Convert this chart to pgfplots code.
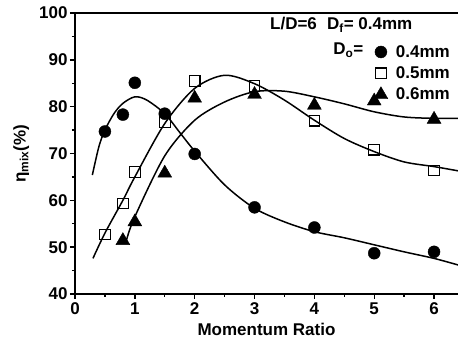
\documentclass[border=0pt]{standalone}
\usepackage{fontspec}
\setmainfont{Liberation Sans}
\usepackage{pgfplots}
\pgfplotsset{compat=1.18}
\begin{document}
\begin{tikzpicture}[font=\fontsize{17}{20}\selectfont\bfseries]
\begin{axis}[name=ax, scale only axis, width=383pt, height=281pt,
 xmin=0, xmax=6.4, ymin=40, ymax=100,
 axis x line*=box, axis y line*=left,
 xtick={0,1,...,6}, ytick={40,50,...,100},
 minor x tick num=1, minor y tick num=1,
 xtick pos=bottom, ytick pos=left, tick align=outside,
 major tick length=5pt, minor tick length=3pt,
 axis line style={line width=1.8pt},
 every tick/.style={line width=1.4pt, black},
 /pgf/number format/assume math mode=true,
 ticklabel style={font=\fontsize{17}{20}\selectfont\bfseries},
 xticklabel style={yshift=0pt}, yticklabel style={xshift=1pt},
 xlabel={Momentum Ratio}, ylabel={η\textsubscript{mix}(\%)},
 xlabel style={yshift=-2pt}, ylabel style={yshift=3pt},
 legend style={draw=none, fill=none, at={(0.992,0.9)}, anchor=north east,
   row sep=4pt, column sep=6pt, font=\fontsize{17}{20}\selectfont\bfseries},
 legend cell align=left,
]
% fitted curves
\addplot[forget plot, black, line width=1.5pt, smooth] coordinates {
 (0.29,65.4) (0.4,71.5) (0.5,75) (0.65,78.5) (0.8,80.7) (1.0,82.1) (1.2,81.4) (1.5,78.5)
 (1.75,74.5) (2.0,70.5) (2.5,63.3) (3.0,58.3) (3.5,55.4) (4.0,53.3) (4.5,52) (5.0,50.5) (5.5,49) (6.0,47.6) (6.4,46.2)};
\addplot[forget plot, black, line width=1.5pt, smooth] coordinates {
 (0.3,47.6) (0.5,53) (0.8,60) (1.0,65) (1.5,76.4) (2.0,83.9) (2.5,86.7) (3.0,84.9)
 (3.5,81.4) (4.0,77.1) (4.5,73.2) (5.0,70.4) (5.5,68.2) (6.0,67.2) (6.4,66.3)};
\addplot[forget plot, black, line width=1.5pt, smooth] coordinates {
 (0.86,51.5) (1.0,56.5) (1.5,69.5) (2.0,77.1) (2.5,81) (3.0,83.2) (3.5,83.3) (4.0,82.1)
 (4.5,80.6) (5.0,78.9) (5.5,77.8) (6.0,77.5) (6.4,77.5)};
% data
\addplot[only marks, mark=*, mark size=6pt, black] coordinates {
 (0.5,74.7) (0.8,78.3) (1.0,85.1) (1.5,78.5) (2.0,69.9) (3.0,58.5) (4.0,54.2) (5.0,48.7) (6.0,49.0)};
\addlegendentry{0.4mm}
\addplot[only marks, mark=square, mark size=5.3pt, black, line width=1.1pt] coordinates {
 (0.5,52.7) (0.8,59.3) (1.0,66.0) (1.5,76.7) (2.0,85.5) (3.0,84.4) (4.0,77.0) (5.0,70.8) (6.0,66.4)};
\addlegendentry{0.5mm}
\addplot[only marks, mark=triangle*, mark size=8pt, black] coordinates {
 (0.8,51.4) (1.0,55.4) (1.5,65.8) (2.0,81.8) (3.0,82.6) (4.0,80.3) (5.0,81.2) (6.0,77.3)};
\addlegendentry{0.6mm}
\node[anchor=west, inner sep=0pt] at (rel axis cs:0.509,0.957) {L/D=6\hspace{0.6em}D\textsubscript{f}= 0.4mm};
\node[anchor=west, inner sep=0pt] at (rel axis cs:0.674,0.868) {D\textsubscript{o}=};
\end{axis}
\pgfresetboundingbox
\path ([shift={(-75pt,-51pt)}]ax.south west) rectangle ([shift={(0pt,13pt)}]ax.north east);
\end{tikzpicture}
\end{document}
